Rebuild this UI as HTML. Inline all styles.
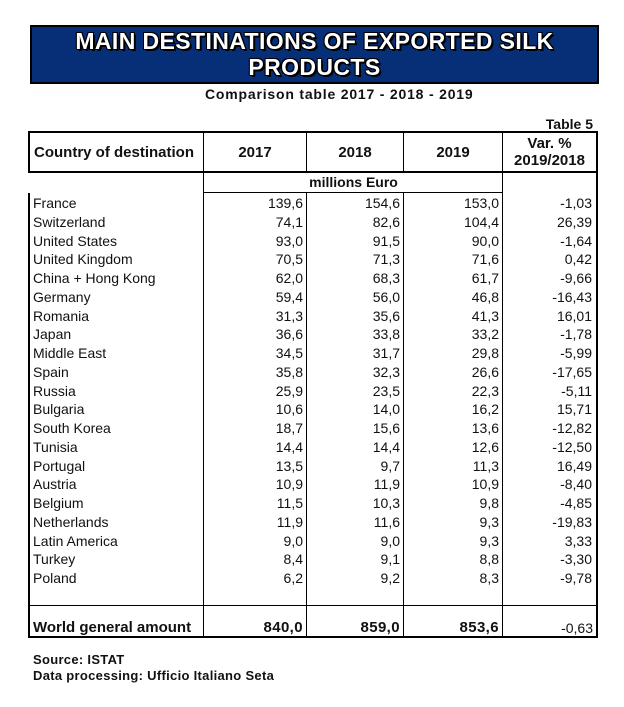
<!DOCTYPE html>
<html><head><meta charset="utf-8"><style>
*{margin:0;padding:0;box-sizing:border-box}
body{width:624px;height:707px;background:#fff;position:relative;overflow:hidden;font-family:"Liberation Sans",Arial,sans-serif;color:#111}
.a{position:absolute;white-space:nowrap}
.tb{left:30px;top:25px;width:569px;height:59px;background:#062f78;border:2px solid #000}
.tt{left:30px;width:569px;text-align:center;color:#fff;font-weight:bold;font-size:23px;letter-spacing:0.4px;line-height:25px;
text-shadow:1px 1px 0 #000,-1px -1px 0 #000,1px -1px 0 #000,-1px 1px 0 #000,2px 2px 0 #000,0 1px 0 #000,1px 0 0 #000,-1px 0 0 #000,0 -1px 0 #000}
.b{font-weight:bold}
.h{background:#000}
.r{font-size:14px;line-height:19px;height:19px}
.n{text-align:right}
</style></head><body>
<div class="a tb"></div>
<div class="a tt" style="top:29px">MAIN DESTINATIONS OF EXPORTED SILK</div>
<div class="a tt" style="top:55px">PRODUCTS</div>
<div class="a b" style="left:205px;top:86px;font-size:14px;letter-spacing:0.8px;line-height:16px">Comparison table 2017 - 2018 - 2019</div>
<div class="a b" style="right:31px;top:116px;font-size:14px;line-height:16px">Table 5</div>

<!-- borders -->
<div class="a h" style="left:28px;top:131px;width:570px;height:2px"></div>
<div class="a h" style="left:28px;top:171px;width:570px;height:2px"></div>
<div class="a h" style="left:204px;top:192px;width:299px;height:1px"></div>
<div class="a h" style="left:28px;top:605px;width:570px;height:1px"></div>
<div class="a h" style="left:28px;top:636px;width:570px;height:2px"></div>
<div class="a h" style="left:28px;top:131px;width:2px;height:41px"></div>
<div class="a h" style="left:28px;top:193px;width:2px;height:445px"></div>
<div class="a h" style="left:596px;top:131px;width:2px;height:507px"></div>
<div class="a h" style="left:203px;top:131px;width:1px;height:507px"></div>
<div class="a h" style="left:306px;top:131px;width:1px;height:41px"></div>
<div class="a h" style="left:306px;top:193px;width:1px;height:444px"></div>
<div class="a h" style="left:403px;top:131px;width:1px;height:41px"></div>
<div class="a h" style="left:403px;top:193px;width:1px;height:444px"></div>
<div class="a h" style="left:502px;top:131px;width:1px;height:507px"></div>

<!-- header -->
<div class="a b" style="left:34px;top:144px;font-size:15px;line-height:17px">Country of destination</div>
<div class="a b" style="left:204px;width:102px;text-align:center;top:144px;font-size:15px;line-height:17px">2017</div>
<div class="a b" style="left:307px;width:96px;text-align:center;top:144px;font-size:15px;line-height:17px">2018</div>
<div class="a b" style="left:404px;width:98px;text-align:center;top:144px;font-size:15px;line-height:17px">2019</div>
<div class="a b" style="left:503px;width:93px;text-align:center;top:135px;font-size:15px;line-height:17px">Var. %<br>2019/2018</div>
<div class="a b" style="left:204px;width:299px;text-align:center;top:174px;font-size:14px;line-height:17px">millions Euro</div>

<div id="rows"></div>
<script>
var d=[["France","139,6","154,6","153,0","-1,03"],["Switzerland","74,1","82,6","104,4","26,39"],["United States","93,0","91,5","90,0","-1,64"],["United Kingdom","70,5","71,3","71,6","0,42"],["China + Hong Kong","62,0","68,3","61,7","-9,66"],["Germany","59,4","56,0","46,8","-16,43"],["Romania","31,3","35,6","41,3","16,01"],["Japan","36,6","33,8","33,2","-1,78"],["Middle East","34,5","31,7","29,8","-5,99"],["Spain","35,8","32,3","26,6","-17,65"],["Russia","25,9","23,5","22,3","-5,11"],["Bulgaria","10,6","14,0","16,2","15,71"],["South Korea","18,7","15,6","13,6","-12,82"],["Tunisia","14,4","14,4","12,6","-12,50"],["Portugal","13,5","9,7","11,3","16,49"],["Austria","10,9","11,9","10,9","-8,40"],["Belgium","11,5","10,3","9,8","-4,85"],["Netherlands","11,9","11,6","9,3","-19,83"],["Latin America","9,0","9,0","9,3","3,33"],["Turkey","8,4","9,1","8,8","-3,30"],["Poland","6,2","9,2","8,3","-9,78"]];
var h="";
var rr=[203,306,403,502,595];
for(var i=0;i<d.length;i++){
 var t=194+i*18.75;
 h+='<div class="a r" style="left:33px;top:'+t+'px">'+d[i][0]+'</div>';
 for(var j=1;j<5;j++){
  h+='<div class="a r n" style="left:'+(rr[j-1]-110)+'px;width:'+(110-3)+'px;right:auto;top:'+t+'px;transform:translateX('+(rr[j]-rr[j-1])+'px)">'+d[i][j]+'</div>';
 }
}
document.getElementById("rows").innerHTML=h;
</script>

<!-- world -->
<div class="a b" style="left:33px;top:619px;font-size:15px;line-height:18px">World general amount</div>
<div class="a b n" style="left:204px;width:99px;top:619px;font-size:15px;letter-spacing:0.4px;line-height:18px">840,0</div>
<div class="a b n" style="left:307px;width:93px;top:619px;font-size:15px;letter-spacing:0.4px;line-height:18px">859,0</div>
<div class="a b n" style="left:404px;width:95px;top:619px;font-size:15px;letter-spacing:0.4px;line-height:18px">853,6</div>
<div class="a n" style="left:503px;width:90px;top:619px;font-size:14px;line-height:18px">-0,63</div>

<div class="a b" style="left:33px;top:652px;font-size:13px;letter-spacing:0.3px;line-height:15px">Source: ISTAT</div>
<div class="a b" style="left:33px;top:668px;font-size:13px;letter-spacing:0.3px;line-height:15px">Data processing: Ufficio Italiano Seta</div>
</body></html>
